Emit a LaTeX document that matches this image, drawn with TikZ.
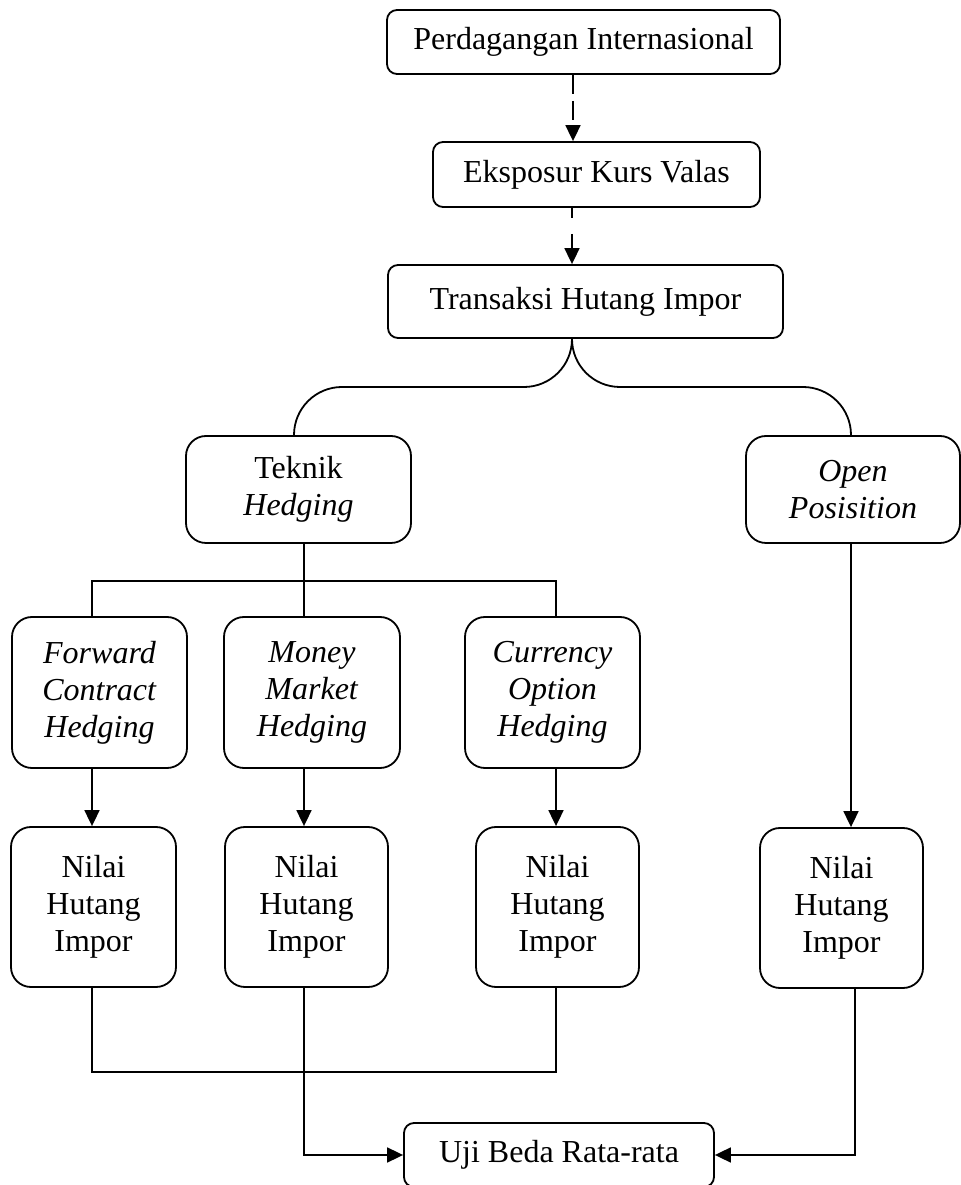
\documentclass[tikz,border=0pt]{standalone}
\usepackage{fontspec}
\setmainfont{Liberation Serif}
\usetikzlibrary{arrows.meta}

\begin{document}
\begin{tikzpicture}[x=0.5pt,y=0.5pt,line width=0.9pt,>={Triangle[length=8pt,width=7.5pt]},
  font=\fontsize{16}{18.5}\selectfont,
  kotak/.style={draw,rounded corners=5pt,align=center,inner sep=0pt},
  kotakb/.style={kotak,rounded corners=10pt}]
\useasboundingbox (0,0) rectangle (961,1185);
% baris atas
\node[kotak,minimum width=196.5pt,minimum height=32pt] (perd) at (583.5,1143) {Perdagangan Internasional};
\node[kotak,minimum width=163.5pt,minimum height=32.5pt] (eksp) at (596.5,1010.5) {Eksposur Kurs Valas};
\node[kotak,minimum width=197.5pt,minimum height=36.5pt] (trans) at (585.5,883.5) {Transaksi Hutang Impor};
% cabang
\node[kotakb,minimum width=112.5pt,minimum height=53.5pt] (teknik) at (298.5,695.5) {Teknik\\\textit{Hedging}};
\node[kotakb,minimum width=107pt,minimum height=53.5pt] (open) at (853,695.5) {\textit{Open}\\\textit{Posisition}};
\node[kotakb,minimum width=87.5pt,minimum height=75.5pt] (fwd) at (99.5,492.5) {\textit{Forward}\\\textit{Contract}\\\textit{Hedging}};
\node[kotakb,minimum width=88pt,minimum height=75.5pt] (money) at (312,492.5) {\textit{Money}\\\textit{Market}\\\textit{Hedging}};
\node[kotakb,minimum width=87.5pt,minimum height=75.5pt] (curr) at (552.5,492.5) {\textit{Currency}\\\textit{Option}\\\textit{Hedging}};
% nilai hutang
\node[kotakb,minimum width=82.5pt,minimum height=80pt] (n1) at (93.5,278) {Nilai\\Hutang\\Impor};
\node[kotakb,minimum width=81.5pt,minimum height=80pt] (n2) at (306.5,278) {Nilai\\Hutang\\Impor};
\node[kotakb,minimum width=81.5pt,minimum height=80pt] (n3) at (557.5,278) {Nilai\\Hutang\\Impor};
\node[kotakb,minimum width=81.5pt,minimum height=80pt] (n4) at (841.5,277) {Nilai\\Hutang\\Impor};
\node[kotak,minimum width=155pt,minimum height=32pt] (uji) at (559,30) {Uji Beda Rata-rata};
% titik bantu
\coordinate (ka) at (573,0);
\coordinate (kb) at (572,0);
\coordinate (kc) at (294,798);
\coordinate (kd) at (851,798);
\coordinate (kt) at (304,604);
\coordinate (kg) at (0,113);
\coordinate (k1) at (92,0);
\coordinate (k2) at (304,0);
\coordinate (k3) at (556,0);
\coordinate (k4) at (851,0);
\coordinate (k5) at (855,0);
% panah putus-putus
\draw[->,dash pattern=on 9.5pt off 3.5pt] (perd.south -| ka) -- (eksp.north -| ka);
\draw[->,dash pattern=on 5pt off 8pt on 20pt off 1pt] (eksp.south -| kb) -- (trans.north -| kb);
% kurung kurawal
\draw[rounded corners=24pt] (trans.south -| kb) |- (kc) -- (kc |- teknik.north);
\draw[rounded corners=24pt] (trans.south -| kb) |- (kd) -- (kd |- open.north);
% teknik hedging
\draw (teknik.south -| kt) -- (kt) -- (money.north -| kt);
\draw (fwd.north -| k1) -- (kt -| k1) -- (kt -| k3) -- (curr.north -| k3);
\foreach \a/\b/\k in {fwd/n1/k1,money/n2/k2,curr/n3/k3,open/n4/k4}
  \draw[->] (\a.south -| \k) -- (\b.north -| \k);
% ke uji beda
\draw (n1.south -| k1) -- (kg -| k1) -- (kg -| k3) -- (n3.south -| k3);
\draw[->] (n2.south -| k2) |- (uji.west);
\draw[->] (n4.south -| k5) |- (uji.east);
\end{tikzpicture}
\end{document}
